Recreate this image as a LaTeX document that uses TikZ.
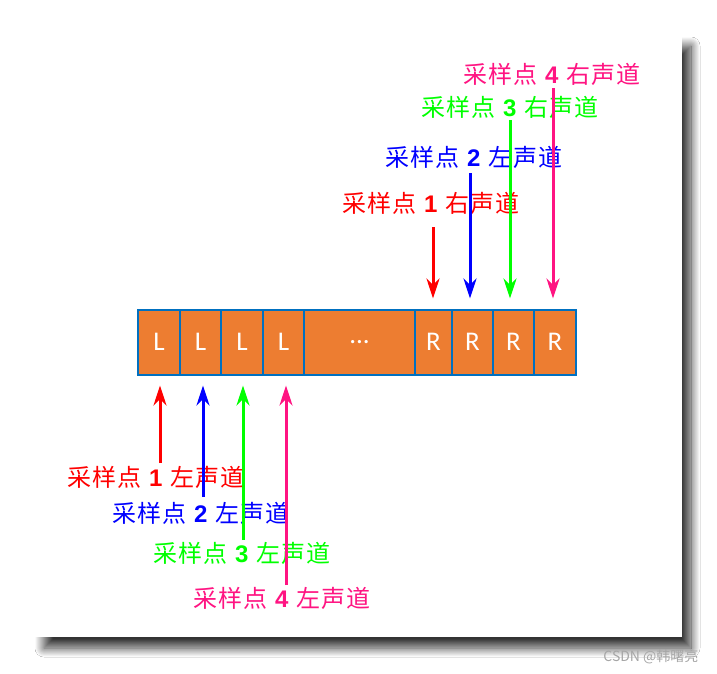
\documentclass[tikz,border=0pt]{standalone}
\usepackage{fontspec}
\setmainfont{Liberation Sans}
\newfontfamily\cjk[LetterSpace=4]{Noto Sans CJK SC}
\newfontfamily\markfont{Noto Sans CJK SC}
\newfontfamily\cellfont{Carlito}
\usetikzlibrary{arrows.meta,shadows.blur}

\definecolor{cellorange}{RGB}{237,125,49}
\definecolor{cellblue}{RGB}{0,112,192}
\definecolor{tagred}{RGB}{255,0,0}
\definecolor{tagblue}{RGB}{0,0,255}
\definecolor{taggreen}{RGB}{0,255,0}
\definecolor{tagpink}{RGB}{255,20,130}

\newcommand{\tagnum}[1]{\hspace{8pt}{\rmfamily\bfseries #1}\hspace{8pt}}

\tikzset{
  cell/.style={draw=cellblue, fill=cellorange, line width=2pt, minimum height=65pt,
    inner sep=0pt, text=white, font=\cellfont\fontsize{27}{27}\selectfont},
  tag/.style={anchor=west, inner sep=0pt, font=\cjk\fontsize{24}{24}\selectfont},
  marker/.style={line width=3pt, -{Stealth[length=20pt,width=13pt]}},
}

\begin{document}
\begin{tikzpicture}[x=1pt, y=-1pt]

    \fill[white] (0,0) rectangle (717,673);
    \useasboundingbox (0,0) rectangle (717,673);

    % panel with its shadow
    \fill[white, blur shadow={shadow xshift=9pt, shadow yshift=-11pt, shadow blur radius=9pt,
      shadow blur steps=30, shadow opacity=80}] (35,35) rectangle (682,637);

    % the sample cells
    \node[cell, minimum width=42pt] (L1) at (159,342) {L};
    \node[cell, minimum width=41pt] (L2) at (200.5,342) {L};
    \node[cell, minimum width=42pt] (L3) at (242,342) {L};
    \node[cell, minimum width=41pt] (L4) at (283.5,342) {L};
    \node[cell, minimum width=111pt] (dots) at (359.5,342) {...};
    \node[cell, minimum width=37pt] (R1) at (433.5,342) {R};
    \node[cell, minimum width=41pt] (R2) at (472.5,342) {R};
    \node[cell, minimum width=41pt] (R3) at (513.5,342) {R};
    \node[cell, minimum width=42pt] (R4) at (555,342) {R};

    % left channel labels
    \node[tag, tagred] (ll1) at (67,477) {采样点\tagnum{1}左声道};
    \node[tag, tagblue] (ll2) at (112,513) {采样点\tagnum{2}左声道};
    \node[tag, taggreen] (ll3) at (153,553) {采样点\tagnum{3}左声道};
    \node[tag, tagpink] (ll4) at (193,598) {采样点\tagnum{4}左声道};

    % right channel labels
    \node[tag, tagred] (rl1) at (342,203) {采样点\tagnum{1}右声道};
    \node[tag, tagblue] (rl2) at (385,157) {采样点\tagnum{2}左声道};
    \node[tag, taggreen] (rl3) at (421,107) {采样点\tagnum{3}右声道};
    \node[tag, tagpink] (rl4) at (463,74) {采样点\tagnum{4}右声道};

    % arrows up to the left samples
    \coordinate (lt1) at (160,463);
    \coordinate (lt2) at (203,497);
    \coordinate (lt3) at (243,540);
    \coordinate (lt4) at (286,585);
    \draw[marker, tagred] (lt1) -- ([yshift=-10pt]lt1 |- L1.south);
    \draw[marker, tagblue] (lt2) -- ([yshift=-10pt]lt2 |- L2.south);
    \draw[marker, taggreen] (lt3) -- ([yshift=-10pt]lt3 |- L3.south);
    \draw[marker, tagpink] (lt4) -- ([yshift=-10pt]lt4 |- L4.south);

    % arrows down to the right samples
    \coordinate (rt1) at (433,227);
    \coordinate (rt2) at (470,173);
    \coordinate (rt3) at (510,120);
    \coordinate (rt4) at (553,88);
    \draw[marker, tagred] (rt1) -- ([yshift=10pt]rt1 |- R1.north);
    \draw[marker, tagblue] (rt2) -- ([yshift=10pt]rt2 |- R2.north);
    \draw[marker, taggreen] (rt3) -- ([yshift=10pt]rt3 |- R3.north);
    \draw[marker, tagpink] (rt4) -- ([yshift=10pt]rt4 |- R4.north);

    \node[anchor=east, text=gray!70, font=\markfont\fontsize{14}{14}\selectfont] (mark) at (702,657) {CSDN @韩曙亮};

\end{tikzpicture}
\end{document}
